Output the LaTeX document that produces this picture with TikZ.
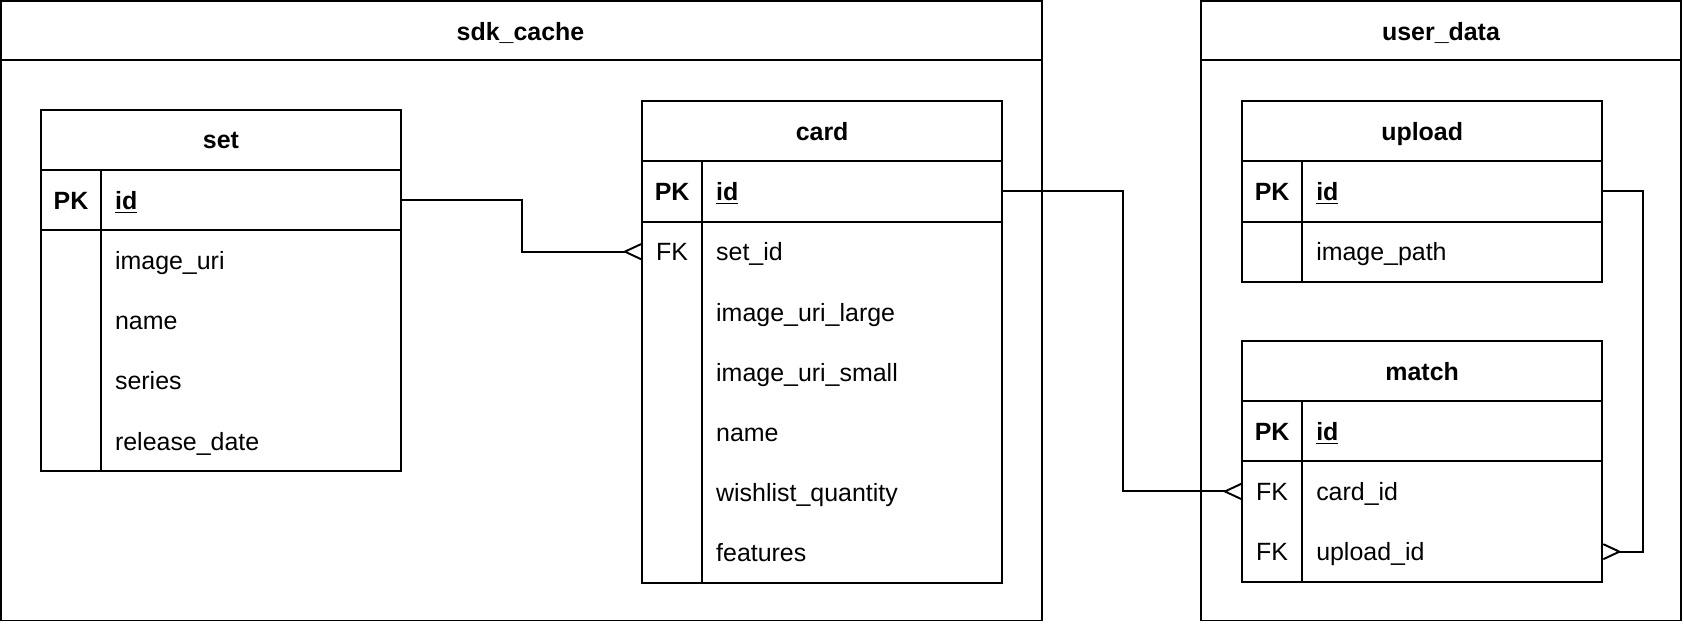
\documentclass[tikz,border=0pt]{standalone}
\usepackage{fontspec}
\setmainfont{Liberation Sans}
\usetikzlibrary{arrows.meta}

\tikzset{
  ln/.style={line width=0.9pt},
  txt/.style={font=\fontsize{11.6}{13.8}\selectfont},
  btxt/.style={font=\fontsize{11.6}{13.8}\selectfont\bfseries},
  cell/.style={anchor=north west, minimum height=28pt, inner ysep=0pt, outer sep=0pt,
    text height=9.75pt, text depth=1.25pt},
  hdr/.style={cell, btxt, minimum width=167.5pt, inner xsep=0pt},
  keycell/.style={cell, txt, minimum width=28pt, inner xsep=0pt},
  fieldcell/.style={cell, txt, inner xsep=6.5pt, text width=126.5pt, align=left},
  crow/.style={-{Straight Barb[reversed, length=7.5pt, width=7pt]}}
}

\begin{document}
\begin{tikzpicture}[x=1pt,y=-1pt]
    \useasboundingbox (0,0) rectangle (783,290);

    % schemas
    \draw[ln] (0.5,0.5) rectangle (484.5,288.5); \draw[ln] (0.5,28) -- (484.5,28);
    \node[btxt] (sdk) at (242,15.5) {sdk\_cache};
    \draw[ln] (558.5,0.5) rectangle (781.5,288.5); \draw[ln] (558.5,28) -- (781.5,28);
    \node[btxt] (user) at (670,15.5) {user\_data};

    % set
    \node[hdr] (set) at (19,51) {set};
    \node[keycell, btxt] (set-pk) at (19,79) {PK};
    \node[fieldcell, btxt] (set-id) at (47,79) {\underline{id}};
    \foreach \f [count=\i] in {image\_uri, name, series, release\_date}
      \node[fieldcell] (set-f\i) at (47,79+28*\i) {\f};
    \draw[ln] (set.north west) rectangle (set-f4.south east);
    \draw[ln] (set.south west) -- (set.south east);
    \draw[ln] (set-pk.south west) -- (set-id.south east);
    \draw[ln] (set-pk.north east) -- (set-pk.north east |- set-f4.south);

    % card
    \node[hdr] (card) at (298.5,47) {card};
    \node[keycell, btxt] (card-pk) at (298.5,75) {PK};
    \node[fieldcell, btxt] (card-id) at (326.5,75) {\underline{id}};
    \node[keycell] (card-fk) at (298.5,103) {FK};
    \foreach \f [count=\i] in {set\_id, image\_uri\_large, image\_uri\_small, name, wishlist\_quantity, features}
      \node[fieldcell] (card-f\i) at (326.5,75+28*\i) {\f};
    \draw[ln] (card.north west) rectangle (card-f6.south east);
    \draw[ln] (card.south west) -- (card.south east);
    \draw[ln] (card-pk.south west) -- (card-id.south east);
    \draw[ln] (card-pk.north east) -- (card-pk.north east |- card-f6.south);

    % upload
    \node[hdr] (upload) at (577.5,47) {upload};
    \node[keycell, btxt] (upload-pk) at (577.5,75) {PK};
    \node[fieldcell, btxt] (upload-id) at (605.5,75) {\underline{id}};
    \node[fieldcell] (upload-f1) at (605.5,103) {image\_path};
    \draw[ln] (upload.north west) rectangle (upload-f1.south east);
    \draw[ln] (upload.south west) -- (upload.south east);
    \draw[ln] (upload-pk.south west) -- (upload-id.south east);
    \draw[ln] (upload-pk.north east) -- (upload-pk.north east |- upload-f1.south);

    % match
    \node[hdr] (match) at (577.5,158.5) {match};
    \node[keycell, btxt] (match-pk) at (577.5,186.5) {PK};
    \node[fieldcell, btxt] (match-id) at (605.5,186.5) {\underline{id}};
    \node[keycell] (match-fk1) at (577.5,214.5) {FK};
    \node[keycell] (match-fk2) at (577.5,242.5) {FK};
    \node[fieldcell] (match-f1) at (605.5,214.5) {card\_id};
    \node[fieldcell] (match-f2) at (605.5,242.5) {upload\_id};
    \draw[ln] (match.north west) rectangle (match-f2.south east);
    \draw[ln] (match.south west) -- (match.south east);
    \draw[ln] (match-pk.south west) -- (match-id.south east);
    \draw[ln] (match-pk.north east) -- (match-pk.north east |- match-f2.south);

    % relations
    \draw[ln, crow] (set-id.east) -- ++(56,0) |- (card-fk.west);
    \draw[ln, crow] (card-id.east) -- ++(56,0) |- (match-fk1.west);
    \draw[ln, crow] (upload-id.east) -- ++(19,0) |- (match-f2.east);
\end{tikzpicture}
\end{document}
